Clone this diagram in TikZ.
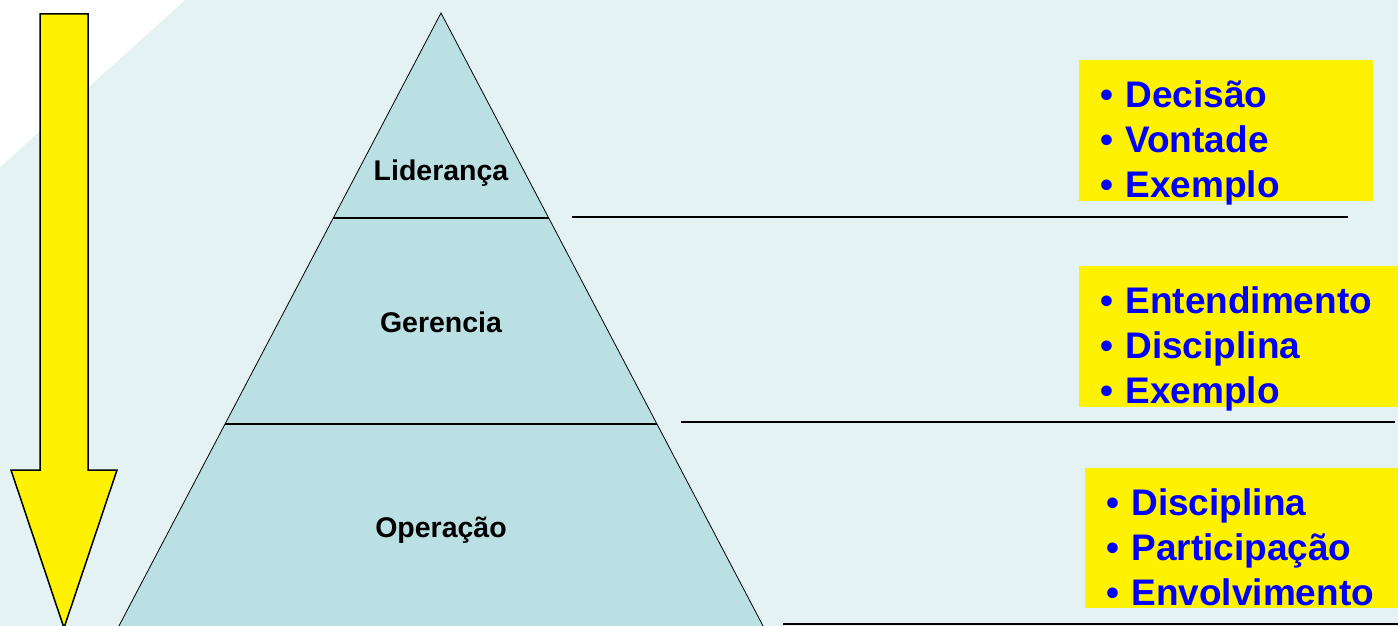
\documentclass[tikz,border=0pt]{standalone}
\usepackage{fontspec}
\setmainfont{Liberation Sans}
\usepackage{tikz}
\usetikzlibrary{positioning,shapes}
\definecolor{fundo}{HTML}{E4F2F4}
\definecolor{piramide}{HTML}{BBE0E3}
\definecolor{azul}{HTML}{0000FF}

\begin{document}
\begin{tikzpicture}[%
        x=1pt,y=-1pt,
        node distance=20pt and 21pt,
        nivel/.style={%
          font=\fontsize{28.5}{32}\selectfont\bfseries,
          anchor=base
        },
        caixa/.style={%
          fill=yellow,
          inner sep=0pt,
          anchor=north west
        },
        lista/.style={%
          text=azul,
          font=\fontsize{37}{45}\selectfont\bfseries,
          align=left,
          inner sep=0pt
        },
        divisa/.style={line width=2pt}
      ]
      \useasboundingbox (0,0) rectangle (1398,626);
      \clip (0,0) rectangle (1398,626);
      \fill[fundo] (0,0) rectangle (1398,626);
      \fill[white] (0,0) -- (185,0) -- (0,167) -- cycle;

      % seta
      \draw[fill=yellow,line width=1.5pt,line join=miter]
        (40,14) -- (88,14) -- (88,470) -- (117,470) -- (64,628) -- (11,470) -- (40,470) -- cycle;

      % piramide
      \coordinate (topo) at (441,13);
      \coordinate (baseE) at (110,643);
      \coordinate (baseD) at (772,643);
      \draw[fill=piramide,line width=0.8pt] (topo) -- (baseD) -- (baseE) -- cycle;
      \coordinate (n1E) at (333.3,218);
      \coordinate (n1D) at (548.7,218);
      \coordinate (n2E) at (225.1,424);
      \coordinate (n2D) at (656.9,424);
      \draw[divisa] (n1E) -- (n1D);
      \draw[divisa] (n2E) -- (n2D);

      \node[nivel] (lid) at (441,180) {Liderança};
      \node[nivel] (ger) at (441,332) {Gerencia};
      \node[nivel] (ope) at (441,537) {Operação};

      % linhas
      \coordinate (l1a) at (572,217);
      \coordinate (l1b) at (1348,217);
      \coordinate (l2a) at (681,422);
      \coordinate (l2b) at (1395,422);
      \coordinate (l3a) at (783,624);
      \coordinate (l3b) at (1400,624);
      \draw[divisa] (l1a) -- (l1b);
      \draw[divisa] (l2a) -- (l2b);
      \draw[divisa] (l3a) -- (l3b);

      % caixas
      \node[caixa,minimum width=294pt,minimum height=141pt] (cx1) at (1079,60) {};
      \node[caixa,minimum width=330pt,minimum height=141pt] (cx2) at (1079,266) {};
      \node[caixa,minimum width=330pt,minimum height=140pt] (cx3) at (1085,468) {};

      \node[lista] (t1) [below right=of cx1.north west] {•\hspace{2pt} Decisão\\•\hspace{2pt} Vontade\\•\hspace{2pt} Exemplo};
      \node[lista] (t2) [below right=of cx2.north west] {•\hspace{2pt} Entendimento\\•\hspace{2pt} Disciplina\\•\hspace{2pt} Exemplo};
      \node[lista] (t3) [below right=of cx3.north west] {•\hspace{2pt} Disciplina\\•\hspace{2pt} Participação\\•\hspace{2pt} Envolvimento};
\end{tikzpicture}
\end{document}
